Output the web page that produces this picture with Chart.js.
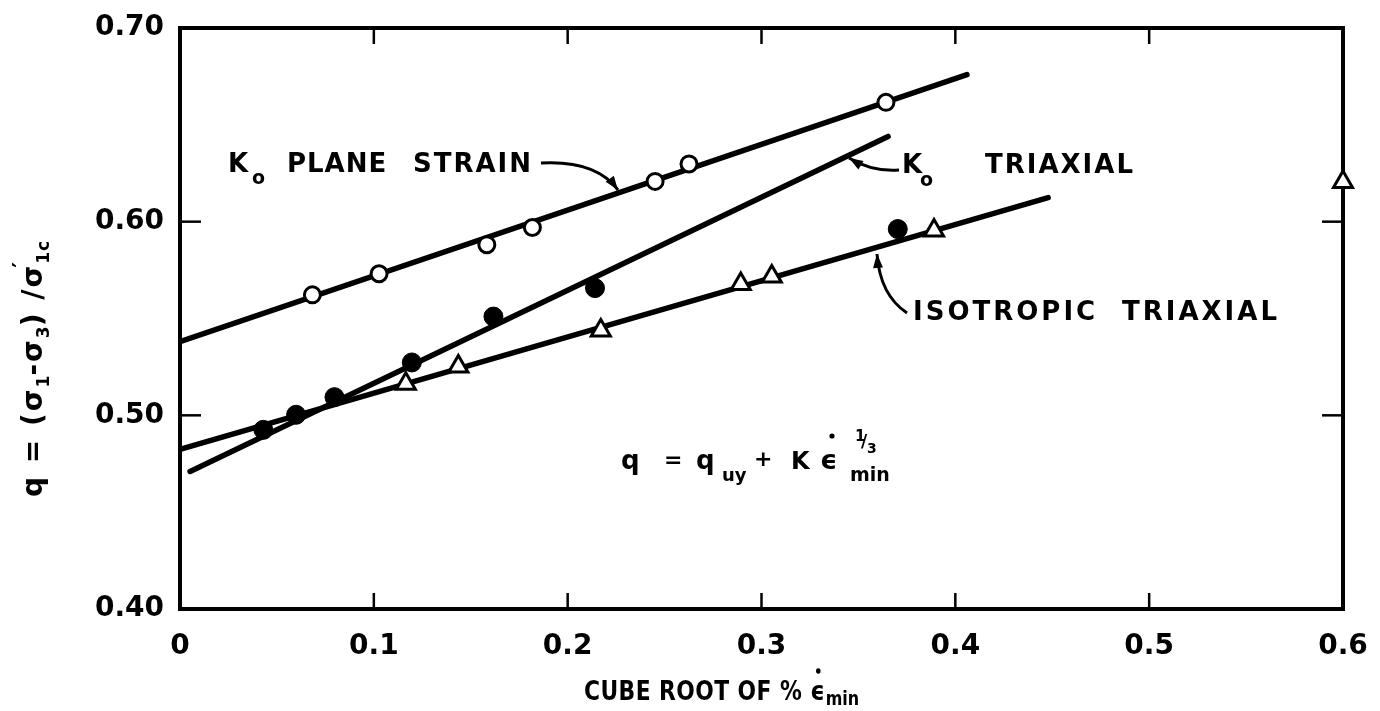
<!DOCTYPE html>
<html><head><meta charset="utf-8">
<script src="https://cdn.jsdelivr.net/npm/chart.js@4.4.1/dist/chart.umd.min.js"></script>
<style>html,body{margin:0;padding:0;background:#fff;overflow:hidden}canvas{display:block}</style>
</head><body>
<canvas id="c" width="1380" height="711" style="width:1380px;height:711px"></canvas>
<script>
// ---- axis ranges and tick labels ----
const xMin = 0, xMax = 0.6, yMin = 0.4, yMax = 0.7;
const xTickLabels = ['0', '0.1', '0.2', '0.3', '0.4', '0.5', '0.6'];
const yTickLabels = ['0.40', '0.50', '0.60', '0.70'];

// ---- measured points ----
const planeStrainX = [0.0683, 0.1027, 0.1583, 0.1818, 0.2451, 0.2626, 0.3642];
const planeStrainY = [0.5622, 0.5731, 0.5881, 0.5970, 0.6208, 0.6298, 0.6616];
const k0TriaxialX  = [0.0430, 0.0599, 0.0797, 0.1196, 0.1617, 0.2141, 0.3703];
const k0TriaxialY  = [0.4925, 0.5003, 0.5094, 0.5273, 0.5510, 0.5657, 0.5962];
const isoTriaxialX = [0.1165, 0.1436, 0.2171, 0.2893, 0.3053, 0.3890, 0.6000];
const isoTriaxialY = [0.5163, 0.5252, 0.5438, 0.5678, 0.5717, 0.5955, 0.6205];

// ---- fitted straight lines (end points) ----
const planeStrainFitX = [0.0, 0.406];
const planeStrainFitY = [0.5381, 0.6759];
const k0TriaxialFitX  = [0.0052, 0.3653];
const k0TriaxialFitY  = [0.4710, 0.6440];
const isoTriaxialFitX = [0.0, 0.4479];
const isoTriaxialFitY = [0.4824, 0.6124];

const FONT = '"DejaVu Sans", "Liberation Sans", sans-serif';
const pts = (xs, ys) => xs.map((x, i) => ({x: x, y: ys[i]}));

function fitLine(label, xs, ys) {
  return {label: label, type: 'line', data: pts(xs, ys), showLine: true,
    borderColor: '#000', borderWidth: 5.5, borderCapStyle: 'round',
    pointRadius: 0, pointHoverRadius: 0, fill: false, tension: 0, order: 10};
}

const framePlugin = {
  id: 'frame',
  beforeDatasetsDraw(chart) {
    const {ctx, chartArea: a, scales: {x, y}} = chart;
    ctx.save();
    ctx.strokeStyle = '#000';
    ctx.lineWidth = 4;
    ctx.strokeRect(a.left, a.top, a.right - a.left, a.bottom - a.top);
    ctx.lineWidth = 2.5;
    const seg = (x1, y1, x2, y2) => { ctx.beginPath(); ctx.moveTo(x1, y1); ctx.lineTo(x2, y2); ctx.stroke(); };
    x.ticks.forEach(t => {
      if (t.value <= xMin + 1e-9 || t.value >= xMax - 1e-9) return;
      const p = x.getPixelForValue(t.value);
      seg(p, a.bottom, p, a.bottom - 16);
      seg(p, a.top, p, a.top + 16);
    });
    y.ticks.forEach(t => {
      if (t.value <= yMin + 1e-9 || t.value >= yMax - 1e-9) return;
      const p = y.getPixelForValue(t.value);
      seg(a.left, p, a.left + 21, p);
      seg(a.right, p, a.right - 21, p);
    });
    ctx.restore();
  }
};

function runs(ctx, x, y, list) {
  let cx = x;
  for (const r of list) {
    ctx.font = 'bold ' + r.s + 'px ' + FONT;
    ctx.letterSpacing = (r.ls || 0) + 'px';
    cx += (r.dx || 0);
    ctx.fillText(r.t, cx, y + (r.dy || 0));
    if (!r.na) cx += ctx.measureText(r.t).width;
  }
  ctx.letterSpacing = '0px';
  return cx;
}
function txt(ctx, t, x, y, s, ls) {
  ctx.font = 'bold ' + s + 'px ' + FONT;
  ctx.letterSpacing = (ls || 0) + 'px';
  ctx.fillText(t, x, y);
  ctx.letterSpacing = '0px';
}
function arrow(ctx, sx, sy, cx, cy, ex, ey) {
  ctx.beginPath(); ctx.moveTo(sx, sy); ctx.quadraticCurveTo(cx, cy, ex, ey);
  ctx.lineWidth = 3; ctx.stroke();
  const ang = Math.atan2(ey - cy, ex - cx), L = 14, W = 5;
  ctx.beginPath();
  ctx.moveTo(ex, ey);
  ctx.lineTo(ex - L * Math.cos(ang) + W * Math.sin(ang), ey - L * Math.sin(ang) - W * Math.cos(ang));
  ctx.lineTo(ex - L * Math.cos(ang) - W * Math.sin(ang), ey - L * Math.sin(ang) + W * Math.cos(ang));
  ctx.closePath(); ctx.fill();
}
function dot(ctx, x, y, r) { ctx.beginPath(); ctx.arc(x, y, r, 0, Math.PI * 2); ctx.fill(); }

const textPlugin = {
  id: 'texts',
  afterDraw(chart) {
    const ctx = chart.ctx;
    ctx.save();
    ctx.fillStyle = '#000'; ctx.strokeStyle = '#000';
    ctx.textAlign = 'left'; ctx.textBaseline = 'alphabetic';

    // K0 PLANE STRAIN
    txt(ctx, 'K', 228, 172, 26);
    txt(ctx, 'o', 252, 184, 19);
    txt(ctx, 'PLANE', 287, 172, 26, 1);
    txt(ctx, 'STRAIN', 413, 172, 26, 2);
    arrow(ctx, 541, 163, 596, 160, 618, 190);

    // K0 TRIAXIAL
    txt(ctx, 'K', 902, 173, 26);
    txt(ctx, 'o', 920, 186, 19);
    txt(ctx, 'TRIAXIAL', 985, 173, 26, 2);
    arrow(ctx, 899, 170, 872, 172, 849, 158);

    // ISOTROPIC TRIAXIAL
    txt(ctx, 'ISOTROPIC', 913, 320, 26, 3);
    txt(ctx, 'TRIAXIAL', 1122, 320, 26, 3);
    arrow(ctx, 907, 313, 880, 295, 877, 254);

    // formula
    txt(ctx, 'q', 621, 469, 26);
    txt(ctx, '=', 664, 467, 22);
    txt(ctx, 'q', 696, 469, 26);
    txt(ctx, 'uy', 722, 481, 18);
    txt(ctx, '+', 754, 466, 22);
    txt(ctx, 'K', 791, 469, 24);
    txt(ctx, '\u03F5', 820, 469, 27);
    dot(ctx, 832, 436, 2.6);
    txt(ctx, '1', 855, 441, 15);
    txt(ctx, '/', 861, 447, 17);
    txt(ctx, '3', 867, 453, 14);
    txt(ctx, 'min', 850, 481, 19);

    // x-axis title (slightly condensed lettering)
    ctx.save();
    ctx.translate(584, 700);
    ctx.scale(0.84, 1);
    let ex = runs(ctx, 0, 0, [{t: 'CUBE ROOT OF % ', s: 26, ls: 0.5}]);
    txt(ctx, '\u03F5', ex, 0, 27);
    ctx.font = 'bold 27px ' + FONT;
    const ew = ctx.measureText('\u03F5').width;
    dot(ctx, ex + ew * 0.55, -29, 2.7);
    txt(ctx, 'min', ex + ew + 1, 5, 19);
    ctx.restore();

    // y-axis title (rotated)
    ctx.save();
    ctx.translate(42, 497);
    ctx.rotate(-Math.PI / 2);
    let p = runs(ctx, 0, 0, [
      {t: 'q = (\u03C3', s: 28, ls: 2},
      {t: '1', s: 17, dy: 7},
      {t: '-\u03C3', s: 28, ls: 2},
      {t: '3', s: 17, dy: 7},
      {t: ') /\u03C3', s: 28, ls: 2}
    ]);
    txt(ctx, '\u2032', p - 4, -14, 22);
    txt(ctx, '1c', p, 7, 17, 1);
    ctx.restore();

    ctx.restore();
  }
};

new Chart(document.getElementById('c'), {
  type: 'scatter',
  data: {
    datasets: [
      fitLine('K0 plane strain fit', planeStrainFitX, planeStrainFitY),
      fitLine('K0 triaxial fit', k0TriaxialFitX, k0TriaxialFitY),
      fitLine('Isotropic triaxial fit', isoTriaxialFitX, isoTriaxialFitY),
      {label: 'K0 plane strain', data: pts(planeStrainX, planeStrainY), pointStyle: 'circle',
        pointRadius: 8, pointBorderWidth: 3, pointBackgroundColor: '#fff', pointBorderColor: '#000', order: 1},
      {label: 'K0 triaxial', data: pts(k0TriaxialX, k0TriaxialY), pointStyle: 'circle',
        pointRadius: 9.5, pointBorderWidth: 1, pointBackgroundColor: '#000', pointBorderColor: '#000', order: 2},
      {label: 'Isotropic triaxial', data: pts(isoTriaxialX, isoTriaxialY), pointStyle: 'triangle',
        pointRadius: 11, pointBorderWidth: 3, pointBackgroundColor: '#fff', pointBorderColor: '#000', order: 0, clip: false}
    ]
  },
  options: {
    responsive: false, animation: false, devicePixelRatio: 1,
    layout: {padding: {left: 0, right: 37, top: 28, bottom: 0}},
    plugins: {legend: {display: false}, tooltip: {enabled: false}},
    events: [],
    scales: {
      x: {
        type: 'linear', min: xMin, max: xMax,
        ticks: {stepSize: 0.1, autoSkip: false, maxRotation: 0, padding: 21, color: '#000',
          font: {family: FONT, size: 28, weight: 'bold'},
          callback: (v, i) => xTickLabels[i]},
        grid: {display: false, drawTicks: false}, border: {display: false},
        afterFit(s) { s.height = 102; s.paddingLeft = 0; s.paddingRight = 0; }
      },
      y: {
        type: 'linear', min: yMin, max: yMax,
        ticks: {stepSize: 0.1, autoSkip: false, padding: 16, color: '#000',
          font: {family: FONT, size: 28, weight: 'bold'},
          callback: (v, i) => yTickLabels[i]},
        grid: {display: false, drawTicks: false}, border: {display: false},
        afterFit(s) { s.width = 180; s.paddingTop = 0; s.paddingBottom = 0; }
      }
    }
  },
  plugins: [framePlugin, textPlugin]
});
</script>
</body></html>
